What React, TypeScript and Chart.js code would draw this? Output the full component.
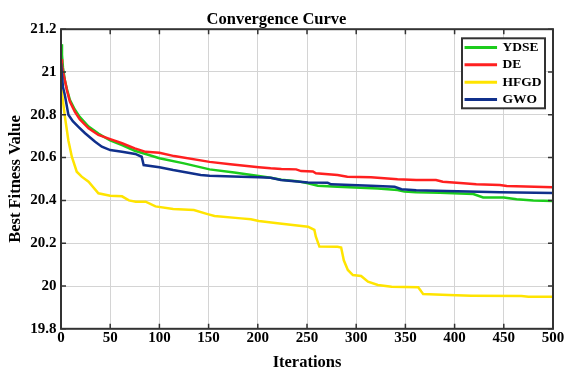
import React, { useEffect, useRef } from 'react';
import { Chart, registerables } from 'chart.js';

Chart.register(...registerables);

// ---- tick labels ----
const xTickValues = [0, 50, 100, 150, 200, 250, 300, 350, 400, 450, 500];
const yTickValues = [19.8, 20, 20.2, 20.4, 20.6, 20.8, 21, 21.2];

// ---- series ----
const seriesNames = ['YDSE', 'DE', 'HFGD', 'GWO'];
const seriesColors = ['#1ccc1c', '#ff2020', '#ffe400', '#10308c'];

const ydseIter = [0, 1, 2, 4, 6, 9, 14, 19, 28, 38, 50, 62, 75, 86, 100, 125, 151, 176, 201, 213, 224, 240, 251, 261, 281, 322, 342, 349, 361, 385, 419, 429, 450, 463, 480, 500];
const ydseFitness = [21.13, 21.08, 21.02, 20.96, 20.92, 20.87, 20.825, 20.79, 20.745, 20.712, 20.68, 20.658, 20.632, 20.617, 20.597, 20.573, 20.545, 20.53, 20.514, 20.506, 20.497, 20.49, 20.48, 20.469, 20.464, 20.456, 20.449, 20.441, 20.438, 20.436, 20.43, 20.414, 20.413, 20.405, 20.4, 20.397];

const deIter = [0, 1, 2, 4, 6, 9, 14, 19, 28, 38, 50, 62, 75, 86, 100, 115, 151, 172, 201, 213, 224, 239, 244, 256, 259, 281, 291, 315, 342, 361, 381, 388, 409, 422, 446, 453, 500];
const deFitness = [21.06, 21.03, 21.0, 20.96, 20.915, 20.862, 20.815, 20.779, 20.737, 20.706, 20.686, 20.667, 20.643, 20.627, 20.623, 20.607, 20.58, 20.569, 20.555, 20.55, 20.547, 20.545, 20.537, 20.535, 20.527, 20.519, 20.511, 20.508, 20.499, 20.495, 20.495, 20.487, 20.48, 20.475, 20.472, 20.467, 20.462];

const hfgdIter = [0, 1.4, 4, 7.5, 11, 16, 21, 28, 38, 50, 62, 69, 76, 86, 96, 114, 135, 149, 156, 183, 193, 201, 220, 251, 254, 257.5, 259, 262.6, 281, 284.7, 287.4, 291.5, 296.6, 305, 312, 322, 336, 363, 366, 368, 394, 417, 468, 475, 500];
const hfgdFitness = [20.93, 20.885, 20.79, 20.68, 20.604, 20.534, 20.511, 20.487, 20.433, 20.422, 20.419, 20.4, 20.394, 20.394, 20.372, 20.36, 20.355, 20.336, 20.327, 20.316, 20.312, 20.304, 20.293, 20.277, 20.27, 20.262, 20.23, 20.184, 20.183, 20.18, 20.12, 20.075, 20.051, 20.047, 20.02, 20.005, 19.997, 19.994, 19.975, 19.963, 19.958, 19.955, 19.953, 19.95, 19.95];

const gwoIter = [0, 2, 4, 7.5, 12, 17.7, 24.5, 34.7, 41.5, 50, 62, 75.5, 82, 84, 100, 114, 142, 151, 183, 201, 213, 223.5, 251, 271, 274.5, 315, 339, 346, 361, 392, 446, 500];
const gwoFitness = [21.04, 20.93, 20.89, 20.8, 20.77, 20.744, 20.714, 20.674, 20.651, 20.635, 20.627, 20.617, 20.604, 20.565, 20.555, 20.542, 20.519, 20.515, 20.511, 20.508, 20.506, 20.495, 20.484, 20.482, 20.475, 20.469, 20.464, 20.452, 20.447, 20.444, 20.438, 20.435];

const seriesIters = [ydseIter, deIter, hfgdIter, gwoIter];
const seriesValues = [ydseFitness, deFitness, hfgdFitness, gwoFitness];

const SERIF = "'Liberation Serif', 'Times New Roman', serif";

export default function App() {
  const ref = useRef<HTMLCanvasElement>(null);

  useEffect(() => {
    if (!ref.current) return;

    const legendRect = { left: 462, top: 38.3, right: 545, bottom: 108.3 };

    const framePlugin = {
      id: 'frameAndLegend',
      afterLayout(chart: any) {
        const lg = chart.legend;
        if (!lg) return;
        lg.left = legendRect.left;
        lg.top = 37;
        lg.right = legendRect.right;
        lg.bottom = legendRect.bottom + 2;
        lg.width = lg.right - lg.left;
        lg.height = lg.bottom - lg.top;
        if (!lg.__patched) {
          const orig = lg.draw.bind(lg);
          lg.draw = (area: any) => {
            const ctx = chart.ctx;
            ctx.save();
            ctx.fillStyle = '#ffffff';
            ctx.fillRect(legendRect.left, legendRect.top, legendRect.right - legendRect.left, legendRect.bottom - legendRect.top);
            ctx.strokeStyle = '#333333';
            ctx.lineWidth = 2;
            ctx.strokeRect(legendRect.left, legendRect.top, legendRect.right - legendRect.left, legendRect.bottom - legendRect.top);
            ctx.restore();
            orig(area);
          };
          lg.__patched = true;
        }
      },
      afterDatasetsDraw(chart: any) {
        const { ctx, chartArea, scales } = chart;
        const { left, top, right, bottom } = chartArea;
        ctx.save();
        ctx.strokeStyle = '#333333';
        ctx.lineWidth = 1.5;
        const tl = 5;
        ctx.beginPath();
        xTickValues.forEach((v) => {
          const x = scales.x.getPixelForValue(v);
          ctx.moveTo(x, bottom);
          ctx.lineTo(x, bottom - tl);
          ctx.moveTo(x, top);
          ctx.lineTo(x, top + tl);
        });
        yTickValues.forEach((v) => {
          const y = scales.y.getPixelForValue(v);
          ctx.moveTo(left, y);
          ctx.lineTo(left + tl, y);
          ctx.moveTo(right, y);
          ctx.lineTo(right - tl, y);
        });
        ctx.stroke();
        ctx.lineWidth = 2;
        ctx.strokeRect(left, top, right - left, bottom - top);
        ctx.restore();
      },
    };

    const datasets = seriesNames.map((name, i) => ({
      label: name,
      data: seriesIters[i].map((x, k) => ({ x, y: seriesValues[i][k] })),
      borderColor: seriesColors[i],
      backgroundColor: seriesColors[i],
      borderWidth: 2.5,
      pointRadius: 0,
      tension: 0,
      fill: false,
      order: seriesNames.length - i,
    }));

    const chart = new Chart(ref.current, {
      type: 'line',
      data: { datasets },
      options: {
        animation: false,
        responsive: false,
        events: [],
        layout: { padding: { left: 0, right: 12, top: 0, bottom: 0 } },
        plugins: {
          tooltip: { enabled: false },
          title: {
            display: true,
            text: 'Convergence Curve',
            color: '#000',
            font: { family: SERIF, size: 16.5, weight: 'bold' },
            padding: { top: 9.4, bottom: 0 },
          },
          legend: {
            display: true,
            position: 'chartArea',
            align: 'start',
            labels: {
              color: '#000',
              font: { family: SERIF, size: 13.5, weight: 'bold' },
              boxWidth: 30,
              boxHeight: 0.5,
              padding: 3.8,
              sort: (a: any, b: any) => a.datasetIndex - b.datasetIndex,
            },
          },
        },
        scales: {
          x: {
            type: 'linear',
            min: 0,
            max: 500,
            afterBuildTicks: (scale: any) => {
              scale.ticks = xTickValues.map((v) => ({ value: v }));
            },
            afterFit: (scale: any) => {
              scale.height = 44.2;
            },
            ticks: {
              color: '#000',
              padding: 0,
              maxRotation: 0,
              autoSkip: false,
              font: { family: SERIF, size: 15, weight: 'bold' },
              callback: (v: any) => String(v),
            },
            grid: { color: '#d4d4d4', lineWidth: 1, drawTicks: false },
            border: { display: false },
            title: {
              display: true,
              text: 'Iterations',
              color: '#000',
              font: { family: SERIF, size: 16.5, weight: 'bold' },
              padding: { top: 0, bottom: 0 },
            },
          },
          y: {
            type: 'linear',
            min: 19.8,
            max: 21.2,
            afterBuildTicks: (scale: any) => {
              scale.ticks = yTickValues.map((v) => ({ value: v }));
            },
            afterFit: (scale: any) => {
              scale.width = 61;
            },
            ticks: {
              color: '#000',
              padding: 4.5,
              autoSkip: false,
              font: { family: SERIF, size: 15, weight: 'bold' },
              callback: (v: any) => String(Math.round(Number(v) * 10) / 10),
            },
            grid: { color: '#d4d4d4', lineWidth: 1, drawTicks: false },
            border: { display: false },
            title: {
              display: true,
              text: 'Best Fitness Value',
              color: '#000',
              font: { family: SERIF, size: 16.5, weight: 'bold' },
              padding: { top: 6, bottom: 0 },
            },
          },
        },
      } as any,
      plugins: [framePlugin],
    });

    return () => chart.destroy();
  }, []);

  return (
    <div style={{ position: 'absolute', left: 0, top: 0, width: 565, height: 373, background: '#fff' }}>
      <canvas ref={ref} width={565} height={373} style={{ display: 'block', width: 565, height: 373 }} />
    </div>
  );
}
